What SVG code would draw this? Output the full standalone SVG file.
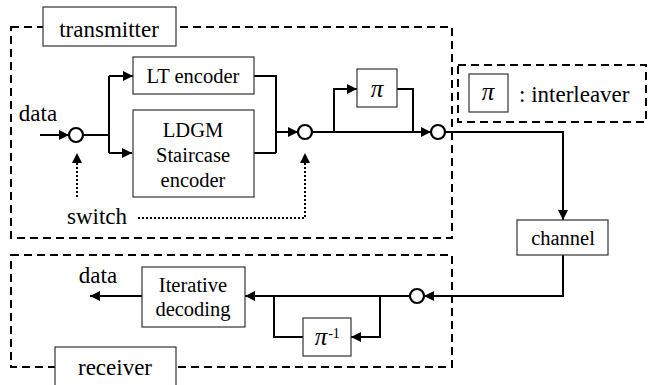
<svg xmlns="http://www.w3.org/2000/svg" width="648" height="385" viewBox="0 0 648 385" font-family="'Liberation Serif', 'Times New Roman', 'DejaVu Serif', serif">
<style>
.bg{fill:#fff}
.box{fill:#fff;stroke:#333;stroke-width:1.2}
.dash{fill:none;stroke:#000;stroke-width:2;stroke-dasharray:8 5}
.w{fill:none;stroke:#000;stroke-width:2}
.dot{fill:none;stroke:#000;stroke-width:2;stroke-dasharray:2 2}
.sw{fill:#fff;stroke:#000;stroke-width:2.2}
text{font-family:'Liberation Serif','Times New Roman','DejaVu Serif',serif}
.t{fill:#000;text-anchor:middle}
.lb{font-size:23px}
.bx{font-size:20.5px}
.pi{font-size:25px;font-style:italic}
</style>
<defs>
<marker id="ah" viewBox="0 0 10 10" refX="10" refY="5" markerWidth="11" markerHeight="10" markerUnits="userSpaceOnUse" orient="auto"><path d="M0,0 L10,5 L0,10 z" fill="#000"/></marker>
</defs>
<rect class="bg" x="0" y="0" width="648" height="385"/>
<g id="transmitter-frame">
<rect class="dash" x="11" y="27" width="441" height="211"/>
<rect class="box" x="43" y="7" width="133" height="39"/>
<text class="t lb" x="109" y="37">transmitter</text>
</g>
<g id="receiver-frame">
<rect class="dash" x="11" y="255" width="441" height="112"/>
<rect class="box" x="55" y="347" width="121" height="45"/>
<text class="t lb" x="115" y="375">receiver</text>
</g>
<g id="legend">
<rect class="dash" x="458" y="65" width="188" height="57"/>
<rect class="box" x="469" y="74" width="39" height="38"/>
<text class="t pi" x="488" y="100">π</text>
<text class="t lb" x="519" y="102" style="text-anchor:start">: interleaver</text>
</g>
<g id="connectors">
<path class="w" d="M40 135 H69" marker-end="url(#ah)"/>
<path class="w" d="M83 135 H109 M109 76 V153"/>
<path class="w" d="M109 76 H133" marker-end="url(#ah)"/>
<path class="w" d="M109 153 H132" marker-end="url(#ah)"/>
<path class="w" d="M254 76 H276 V153 M254 153 H276"/>
<path class="w" d="M276 132 H298" marker-end="url(#ah)"/>
<path class="w" d="M312 132 H431" marker-end="url(#ah)"/>
<path class="w" d="M334 132 V89 H357" marker-end="url(#ah)"/>
<path class="w" d="M397 89 H413 V132"/>
<path class="w" d="M445 132 H563 V220" marker-end="url(#ah)"/>
<path class="w" d="M563 255 V296 H424" marker-end="url(#ah)"/>
<path class="w" d="M410 296 H245" marker-end="url(#ah)"/>
<path class="w" d="M380 296 V337 H351" marker-end="url(#ah)"/>
<path class="w" d="M303 337 H274 V296"/>
<path class="w" d="M142 296 H90" marker-end="url(#ah)"/>
<path class="dot" d="M77 197 V153" marker-end="url(#ah)"/>
<path class="dot" d="M138 218 H305 V153" marker-end="url(#ah)"/>
</g>
<g id="sw1"><circle class="sw" cx="76" cy="135" r="7"/></g>
<g id="sw2"><circle class="sw" cx="305" cy="132" r="7"/></g>
<g id="sw3"><circle class="sw" cx="438" cy="132" r="7"/></g>
<g id="sw4"><circle class="sw" cx="417" cy="296" r="7"/></g>
<g id="lt-encoder">
<rect class="box" x="133" y="57" width="121" height="37"/>
<text class="t bx" x="193" y="83">LT encoder</text>
</g>
<g id="ldgm-encoder">
<rect class="box" x="133" y="110" width="121" height="87"/>
<text class="t bx" x="193" y="137">LDGM</text>
<text class="t bx" x="193" y="162">Staircase</text>
<text class="t bx" x="193" y="187">encoder</text>
</g>
<g id="interleaver">
<rect class="box" x="357" y="69" width="40" height="38"/>
<text class="t pi" x="377" y="97">π</text>
</g>
<g id="channel">
<rect class="box" x="517" y="220" width="91" height="35"/>
<text class="t bx" x="563" y="245">channel</text>
</g>
<g id="iterative-decoding">
<rect class="box" x="142" y="267" width="103" height="60"/>
<text class="t bx" x="193" y="292">Iterative</text>
<text class="t bx" x="193" y="316">decoding</text>
</g>
<g id="deinterleaver">
<rect class="box" x="303" y="318" width="48" height="38"/>
<text class="t pi" x="321" y="345">π</text>
<text class="t" x="334" y="338" style="font-size:14px">-1</text>
</g>
<g id="labels">
<text class="t lb" x="38" y="121">data</text>
<text class="t lb" x="97" y="224">switch</text>
<text class="t lb" x="98" y="283">data</text>
</g>
</svg>
